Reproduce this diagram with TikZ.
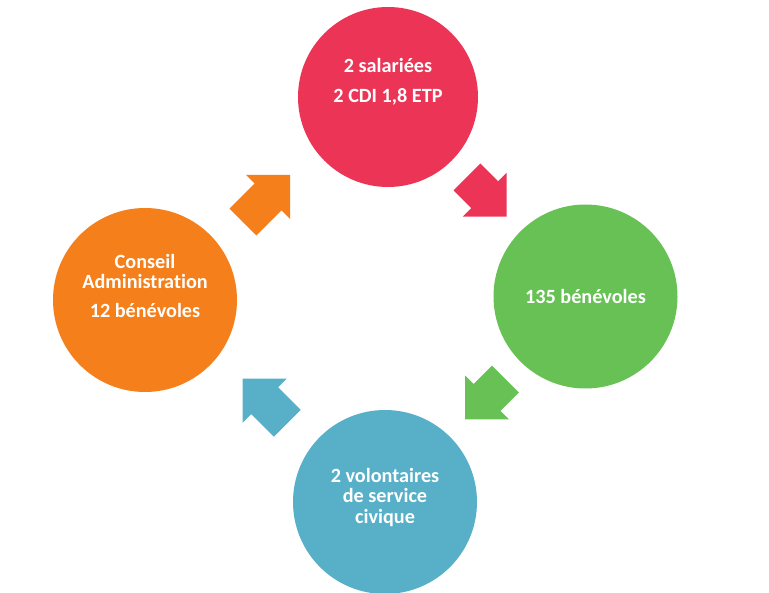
\documentclass[tikz,border=0pt]{standalone}
\usepackage{fontspec}
\setmainfont{Carlito}[Ligatures=NoCommon]
\usetikzlibrary{calc}
\definecolor{RD}{RGB}{236,53,86}
\definecolor{GN}{RGB}{103,193,85}
\definecolor{BL}{RGB}{87,176,200}
\definecolor{OR}{RGB}{244,127,27}

\begin{document}
\begin{tikzpicture}[
  disc/.style={circle, draw=none, minimum size=3.68cm, inner sep=0pt},
  lbl/.style={text=white, align=center, inner sep=0pt,
              font=\fontsize{11.5}{11.6}\selectfont\bfseries},
  blockarr/.pic={
    \path[pic actions] (-#1/2,-0.38) -- (#1/2-0.62,-0.38) -- (#1/2-0.62,-0.62)
      -- (#1/2,0) -- (#1/2-0.62,0.62) -- (#1/2-0.62,0.38) -- (-#1/2,0.38) -- cycle;
  }
]
\useasboundingbox (0,0) rectangle (15.38,11.86);

\node[disc, fill=RD, minimum size=3.6cm] (sal) at (7.76,9.92) {};
\node[disc, fill=GN] (ben) at (11.71,5.93) {};
\node[disc, fill=BL] (civ) at (7.70,1.82) {};
\node[disc, fill=OR] (ca)  at (2.90,5.86) {};

\node[lbl] (salT) at ([yshift=0.3cm]sal.center)  {2 salariées\\[0.19cm]2 CDI 1,8 ETP};
\node[lbl] (benT) at (ben.center)                {135 bénévoles};
\node[lbl] (civT) at ([yshift=0.09cm]civ.center) {2 volontaires\\de service\\civique};
\node[lbl] (caT)  at ([yshift=0.28cm]ca.center)  {Conseil\\Administration\\[0.17cm]12 bénévoles};

% Block arrows half-way between the discs
\pic[fill=OR, rotate=45]   at ($(ca)!0.5!(sal)$)  {blockarr=1.33};
\pic[fill=RD, rotate=-45]  at ($(sal)!0.5!(ben)$) {blockarr=1.12};
\pic[fill=GN, rotate=-135] at ($(ben)!0.5!(civ)$) {blockarr=1.14};
\pic[fill=BL, rotate=135]  at ($(civ)!0.5!(ca)$)  {blockarr=1.26};
\end{tikzpicture}
\end{document}
